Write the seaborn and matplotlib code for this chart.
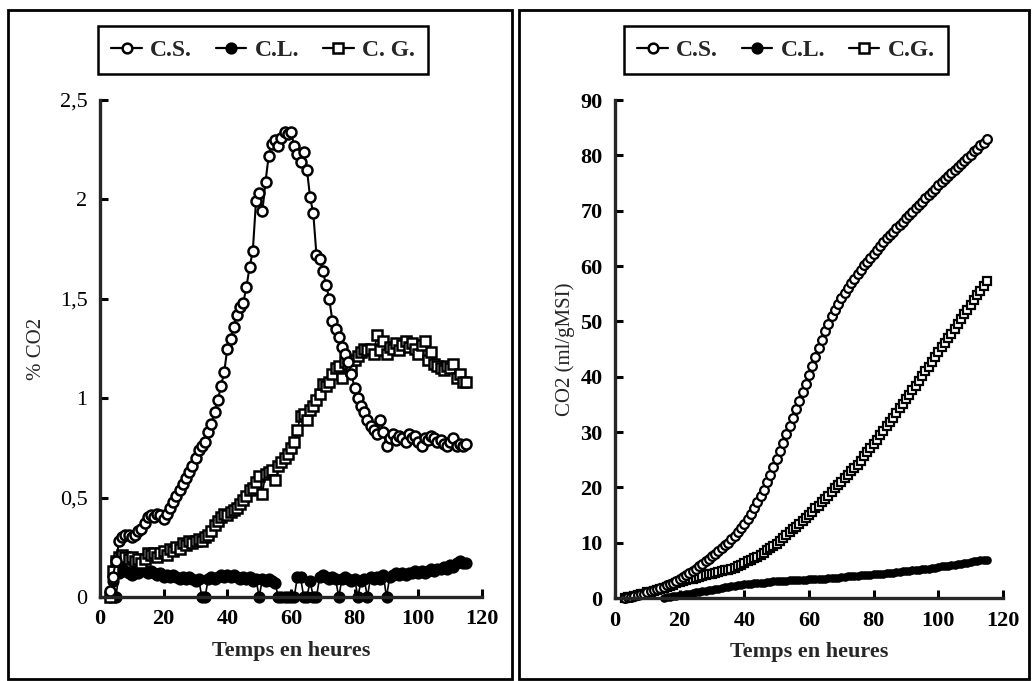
import matplotlib
matplotlib.use("Agg")
import matplotlib.pyplot as plt
from matplotlib.lines import Line2D
from matplotlib.patches import Rectangle
import numpy as np
import pandas as pd
import seaborn as sns

# ---------------- data ----------------
hours = list(range(3, 116))

# left panel : % CO2
pct_cs = [0.03, 0.10, 0.18, 0.28, 0.30, 0.31, 0.31, 0.30, 0.31, 0.33,
          0.34, 0.37, 0.40, 0.41, 0.40, 0.42, 0.41, 0.39, 0.42, 0.45,
          0.48, 0.51, 0.54, 0.57, 0.60, 0.63, 0.66, 0.70, 0.74, 0.76,
          0.78, 0.83, 0.87, 0.93, 0.99, 1.06, 1.13, 1.25, 1.30, 1.36,
          1.42, 1.46, 1.48, 1.56, 1.66, 1.74, 1.99, 2.03, 1.94, 2.09,
          2.22, 2.28, 2.30, 2.27, 2.31, 2.34, 2.33, 2.34, 2.27, 2.23,
          2.19, 2.24, 2.15, 2.01, 1.93, 1.72, 1.70, 1.64, 1.57, 1.50,
          1.39, 1.35, 1.31, 1.26, 1.22, 1.18, 1.12, 1.05, 1.00, 0.96,
          0.93, 0.89, 0.86, 0.84, 0.82, 0.89, 0.83, 0.76, 0.80, 0.82,
          0.79, 0.81, 0.80, 0.78, 0.82, 0.80, 0.81, 0.78, 0.76, 0.80,
          0.79, 0.81, 0.80, 0.78, 0.79, 0.77, 0.76, 0.78, 0.80, 0.76,
          0.77, 0.76, 0.77]

pct_cl = [0.00, 0.08, 0.00, 0.12, 0.14, 0.13, 0.12, 0.11, 0.13, 0.12,
          0.14, 0.13, 0.12, 0.13, 0.12, 0.11, 0.12, 0.10, 0.11, 0.10,
          0.11, 0.10, 0.09, 0.10, 0.09, 0.10, 0.09, 0.08, 0.09, 0.00,
          0.00, 0.09, 0.10, 0.09, 0.10, 0.11, 0.10, 0.11, 0.10, 0.11,
          0.10, 0.09, 0.10, 0.09, 0.10, 0.08, 0.09, 0.00, 0.09, 0.08,
          0.09, 0.08, 0.07, 0.00, 0.00, 0.00, 0.00, 0.00, 0.00, 0.10,
          0.10, 0.00, 0.00, 0.08, 0.00, 0.00, 0.10, 0.11, 0.10, 0.09,
          0.10, 0.09, 0.00, 0.09, 0.10, 0.09, 0.08, 0.09, 0.00, 0.08,
          0.09, 0.00, 0.10, 0.09, 0.10, 0.09, 0.11, 0.00, 0.10, 0.11,
          0.12, 0.11, 0.12, 0.11, 0.12, 0.12, 0.13, 0.12, 0.13, 0.12,
          0.13, 0.14, 0.13, 0.14, 0.14, 0.15, 0.14, 0.16, 0.15, 0.17,
          0.18, 0.17, 0.17]

pct_cg = [0.00, 0.13, 0.18, 0.20, 0.21, 0.20, 0.19, 0.20, 0.18, 0.19,
          0.17, 0.19, 0.22, 0.21, 0.22, 0.20, 0.22, 0.23, 0.21, 0.24,
          0.23, 0.25, 0.24, 0.27, 0.26, 0.28, 0.27, 0.28, 0.29, 0.28,
          0.30, 0.31, 0.33, 0.36, 0.38, 0.40, 0.42, 0.41, 0.43, 0.44,
          0.45, 0.47, 0.49, 0.51, 0.54, 0.55, 0.58, 0.61, 0.52, 0.62,
          0.63, 0.64, 0.59, 0.66, 0.68, 0.70, 0.72, 0.75, 0.78, 0.84,
          0.91, 0.92, 0.89, 0.94, 0.96, 0.99, 1.02, 1.07, 1.06, 1.08,
          1.12, 1.15, 1.16, 1.10, 1.18, 1.17, 1.14, 1.19, 1.21, 1.23,
          1.25, 1.24, 1.25, 1.22, 1.32, 1.24, 1.29, 1.22, 1.26, 1.25,
          1.28, 1.24, 1.27, 1.29, 1.26, 1.28, 1.25, 1.22, 1.27, 1.29,
          1.19, 1.23, 1.17, 1.16, 1.15, 1.14, 1.16, 1.15, 1.17, 1.10,
          1.12, 1.08, 1.08]

# right panel : cumulative CO2 (ml/gMSI)
cum_cs = [0.0, 0.1, 0.2, 0.4, 0.5, 0.7, 0.8, 1.0, 1.2, 1.4,
          1.6, 1.8, 2.0, 2.3, 2.5, 2.8, 3.1, 3.4, 3.8, 4.1,
          4.5, 4.9, 5.3, 5.7, 6.2, 6.6, 7.1, 7.6, 8.0, 8.5,
          9.0, 9.5, 10.0, 10.6, 11.2, 11.9, 12.6, 13.4, 14.3, 15.2,
          16.2, 17.3, 18.4, 19.6, 20.9, 22.2, 23.6, 25.1, 26.6, 28.1,
          29.6, 31.1, 32.6, 34.1, 35.6, 37.2, 38.7, 40.3, 41.9, 43.5,
          45.1, 46.7, 48.2, 49.6, 50.9, 52.1, 53.2, 54.2, 55.2, 56.1,
          56.9, 57.7, 58.5, 59.3, 60.1, 60.8, 61.5, 62.2, 62.9, 63.6,
          64.3, 65.0, 65.6, 66.2, 66.8, 67.4, 68.0, 68.6, 69.2, 69.8,
          70.4, 71.0, 71.6, 72.2, 72.8, 73.4, 74.0, 74.6, 75.2, 75.7,
          76.3, 76.8, 77.4, 77.9, 78.5, 79.0, 79.6, 80.1, 80.7, 81.2,
          81.8, 82.3, 82.9]

cum_cg = [0.0, 0.1, 0.2, 0.4, 0.5, 0.7, 0.8, 1.0, 1.1, 1.3,
          1.4, 1.6, 1.8, 2.0, 2.2, 2.4, 2.7, 2.9, 3.1, 3.2,
          3.4, 3.5, 3.7, 3.8, 4.0, 4.1, 4.3, 4.4, 4.5, 4.7,
          4.8, 5.0, 5.1, 5.3, 5.5, 5.8, 6.0, 6.3, 6.6, 6.9,
          7.2, 7.5, 7.8, 8.2, 8.6, 9.0, 9.4, 9.8, 10.3, 10.8,
          11.3, 11.9, 12.4, 12.9, 13.4, 13.9, 14.5, 15.0, 15.6, 16.2,
          16.7, 17.3, 17.9, 18.5, 19.1, 19.8, 20.4, 21.0, 21.6, 22.2,
          22.9, 23.5, 24.1, 24.8, 25.6, 26.3, 27.1, 27.8, 28.6, 29.4,
          30.2, 31.0, 31.8, 32.6, 33.4, 34.3, 35.1, 35.9, 36.7, 37.6,
          38.4, 39.3, 40.1, 41.0, 41.8, 42.7, 43.5, 44.4, 45.3, 46.1,
          47.0, 47.8, 48.7, 49.6, 50.4, 51.3, 52.1, 53.0, 53.8, 54.7,
          55.5, 56.4, 57.2]

hours_cl = list(range(15, 116))
cum_cl = [0.0, 0.1, 0.2, 0.3, 0.4, 0.5, 0.6, 0.7, 0.8, 0.9,
          1.0, 1.1, 1.2, 1.3, 1.4, 1.5, 1.6, 1.7, 1.8, 1.9,
          2.0, 2.1, 2.2, 2.3, 2.4, 2.5, 2.6, 2.6, 2.7, 2.7,
          2.8, 2.8, 2.9, 2.9, 3.0, 3.0, 3.1, 3.1, 3.1, 3.2,
          3.2, 3.2, 3.3, 3.3, 3.3, 3.4, 3.4, 3.4, 3.5, 3.5,
          3.5, 3.6, 3.6, 3.7, 3.7, 3.8, 3.8, 3.9, 3.9, 4.0,
          4.0, 4.1, 4.1, 4.2, 4.2, 4.3, 4.3, 4.4, 4.4, 4.5,
          4.5, 4.6, 4.7, 4.7, 4.8, 4.9, 4.9, 5.0, 5.1, 5.1,
          5.2, 5.3, 5.3, 5.4, 5.5, 5.6, 5.7, 5.7, 5.8, 5.9,
          6.0, 6.1, 6.2, 6.3, 6.4, 6.5, 6.6, 6.7, 6.8, 6.9,
          6.9]

x_ticks = [0, 20, 40, 60, 80, 100, 120]
left_yticks = [0, 0.5, 1, 1.5, 2, 2.5]
left_yticklabels = ["0", "0,5", "1", "1,5", "2", "2,5"]
right_yticks = [0, 10, 20, 30, 40, 50, 60, 70, 80, 90]
legend_left = ["C.S.", "C.L.", "C. G."]
legend_right = ["C.S.", "C.L.", "C.G."]
x_label = "Temps en heures"
left_ylabel = "% CO2"
right_ylabel = "CO2 (ml/gMSI)"

# ---------------- style ----------------
sns.set_style("ticks")
plt.rcParams["font.family"] = ["Liberation Serif", "DejaVu Serif"]
plt.rcParams["axes.linewidth"] = 2.0

W, H = 1032, 681
fig = plt.figure(figsize=(W / 100, H / 100), dpi=100)
fig.patch.set_facecolor("white")

ax_l = fig.add_axes([100 / W, 1 - 597 / H, 382 / W, 497 / H])
ax_r = fig.add_axes([615 / W, 1 - 598 / H, 388 / W, 498 / H])

left_df = pd.DataFrame({"t": hours, "CS": pct_cs, "CL": pct_cl, "CG": pct_cg})
right_df = pd.DataFrame({"t": hours, "CS": cum_cs, "CG": cum_cg})
right_cl_df = pd.DataFrame({"t": hours_cl, "CL": cum_cl})

styles = {
    "CS": dict(marker="o", mfc="white"),
    "CL": dict(marker="o", mfc="black"),
    "CG": dict(marker="s", mfc="white"),
}

def draw(ax, df, col, ms, lw, mew):
    st = styles[col]
    sns.lineplot(data=df, x="t", y=col, ax=ax, estimator=None, sort=False,
                 color="black", lw=lw, marker=st["marker"], mfc=st["mfc"],
                 mec="black", mew=mew, ms=ms,
                 clip_on=False, legend=False)

# left panel
draw(ax_l, left_df, "CL", 7.0, 1.2, 1.8)
draw(ax_l, left_df, "CG", 6.8, 1.2, 1.8)
draw(ax_l, left_df, "CS", 7.2, 1.5, 1.8)

# right panel
draw(ax_r, right_cl_df, "CL", 5.0, 1.2, 1.2)
draw(ax_r, right_df, "CG", 6.0, 1.0, 1.6)
draw(ax_r, right_df, "CS", 6.3, 1.0, 1.6)

for ax in (ax_l, ax_r):
    ax.set_xlim(0, 120)
    ax.set_xticks(x_ticks)
    ax.set_xticklabels([str(v) for v in x_ticks], fontsize=16, fontweight="bold")
    sns.despine(ax=ax)
    ax.spines["left"].set_linewidth(2.4)
    ax.spines["bottom"].set_linewidth(2.4)
    ax.tick_params(direction="in", length=6, width=2.2, pad=9, colors="black")
    ax.set_xlabel(x_label, fontsize=16, fontweight="bold", labelpad=8)
    ax.set_facecolor("white")

ax_l.set_ylim(0, 2.5)
ax_l.set_yticks(left_yticks)
ax_l.set_yticklabels(left_yticklabels, fontsize=16)
ax_l.set_ylabel(left_ylabel, fontsize=15, labelpad=10)

ax_r.set_ylim(0, 90)
ax_r.set_yticks(right_yticks)
ax_r.set_yticklabels([str(v) for v in right_yticks], fontsize=16, fontweight="bold")
ax_r.set_ylabel(right_ylabel, fontsize=15, labelpad=4)

# legends
def handles():
    return [
        Line2D([], [], color="black", lw=1.6, marker="o", mfc="white", mec="black", mew=1.8, ms=7),
        Line2D([], [], color="black", lw=1.6, marker="o", mfc="black", mec="black", mew=1.8, ms=7),
        Line2D([], [], color="black", lw=1.6, marker="s", mfc="white", mec="black", mew=1.8, ms=7),
    ]

for labels, cx in ((legend_left, 263 / W), (legend_right, 786 / W)):
    leg = fig.legend(handles(), labels, loc="center", bbox_to_anchor=(cx, 1 - 50 / H),
                     ncol=3, frameon=True, fancybox=False, edgecolor="black",
                     framealpha=1, handlelength=1.3, handletextpad=0.35,
                     columnspacing=1.0, borderpad=0.55,
                     prop={"size": 17, "weight": "bold"})
    leg.get_frame().set_linewidth(1.8)

# panel frames
fig.add_artist(Rectangle((8 / W, 1 - 679 / H), (512 - 8) / W, (679 - 10) / H,
                         transform=fig.transFigure, fill=False, lw=2.0, ec="black"))
fig.add_artist(Rectangle((519 / W, 1 - 679 / H), (1029 - 519) / W, (679 - 10) / H,
                         transform=fig.transFigure, fill=False, lw=2.0, ec="black"))

fig.savefig("out.png", dpi=100, facecolor="white")
